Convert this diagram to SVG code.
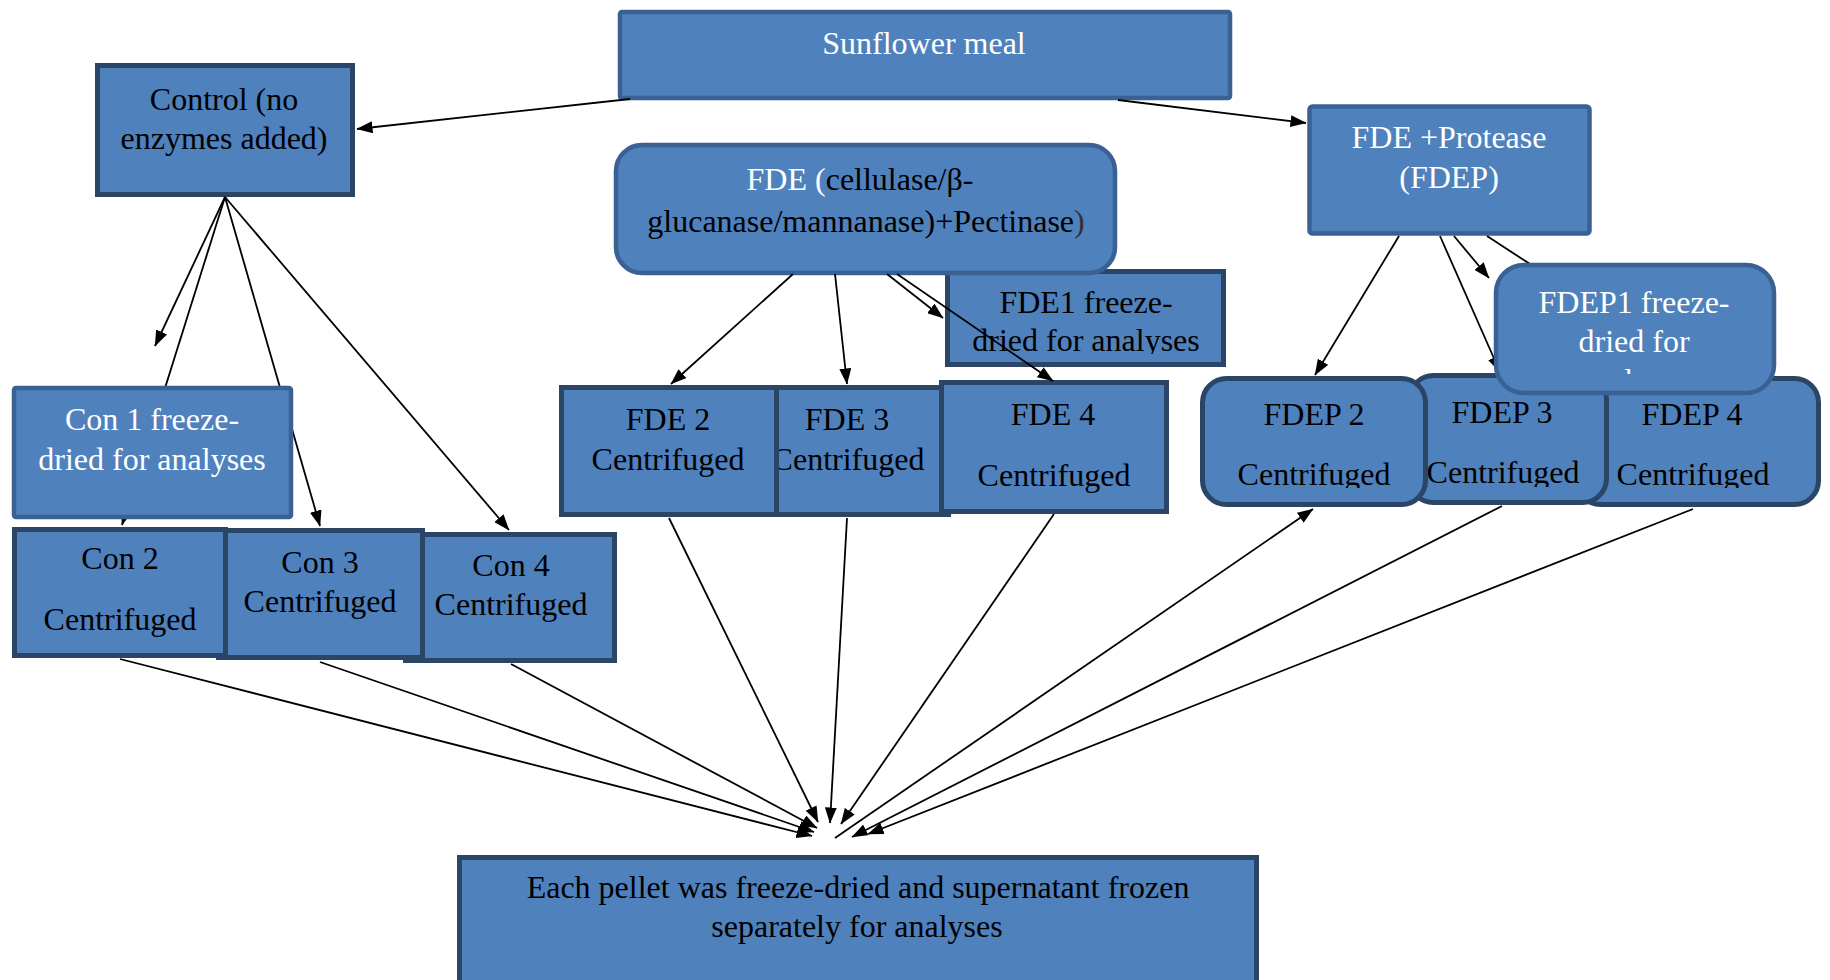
<svg xmlns="http://www.w3.org/2000/svg" width="1830" height="980" viewBox="0 0 1830 980">
<style>
.bd{fill:#4f81bd;stroke:#2b4566;stroke-width:5}
.bm{fill:#4f81bd;stroke:#3a6194;stroke-width:4.5}
.t{font-family:"Liberation Serif","Times New Roman",serif;font-size:32px;text-anchor:middle}
.w{fill:#ffffff}
.k{fill:#000000}
.c{fill:none;stroke:#000;stroke-width:1.8}
.a{marker-end:url(#ah)}
</style>
<defs>
<marker id="ah" markerUnits="userSpaceOnUse" markerWidth="16" markerHeight="12" refX="15.5" refY="6" orient="auto"><path d="M0,0 L16,6 L0,12 z" fill="#000"/></marker>
<clipPath id="cFDE1"><rect x="945" y="269" width="281" height="85"/></clipPath>
<clipPath id="cFDEP1"><rect x="1494" y="263" width="282" height="111"/></clipPath>
<clipPath id="cFDEP2"><rect x="1200" y="376" width="228" height="112"/></clipPath>
<clipPath id="cFDEP3"><rect x="1407" y="373" width="202" height="114"/></clipPath>
<clipPath id="cFDEP4"><rect x="1574" y="376" width="247" height="112"/></clipPath>
</defs>
<rect width="1830" height="980" fill="#fff"/>

<g id="sunflower">
<rect class="bm" x="620" y="12" width="610" height="86" rx="2"/>
<text class="t w" x="924" y="54">Sunflower meal</text>
</g>
<g id="control">
<rect class="bd" x="97.5" y="65.5" width="255" height="129"/>
<text class="t k" x="224" y="110">Control (no</text>
<text class="t k" x="224" y="149">enzymes added)</text>
</g>
<g id="fde1">
<rect class="bd" x="947.5" y="271.5" width="276" height="93"/>
<g clip-path="url(#cFDE1)">
<text class="t k" x="1086" y="313">FDE1 freeze-</text>
<text class="t k" x="1086" y="351">dried for analyses</text>
</g>
</g>
<g id="fde">
<rect class="bm" x="616" y="145" width="499" height="128" rx="26"/>
<text class="t" x="860" y="190"><tspan class="w">FDE (</tspan><tspan class="k">cellulase/β-</tspan></text>
<text class="t k" x="866" y="232">glucanase/mannanase)+Pectinase<tspan fill="#333">)</tspan></text>
</g>
<g id="fdep">
<rect class="bm" x="1309.5" y="106.5" width="280" height="127" rx="3"/>
<text class="t w" x="1449" y="148">FDE +Protease</text>
<text class="t w" x="1449" y="188">(FDEP)</text>
</g>
<g id="fde3">
<rect class="bd" x="743.5" y="387.5" width="205" height="127"/>
<text class="t k" x="847" y="430">FDE 3</text>
<text class="t k" x="848" y="470">Centrifuged</text>
</g>
<g id="fde2">
<rect class="bd" x="561.5" y="387.5" width="215" height="127"/>
<text class="t k" x="668" y="430">FDE 2</text>
<text class="t k" x="668" y="470">Centrifuged</text>
</g>
<g id="fde4">
<rect class="bd" x="941.5" y="382.5" width="225" height="129"/>
<text class="t k" x="1053" y="425">FDE 4</text>
<text class="t k" x="1054" y="486">Centrifuged</text>
</g>
<g id="fdep4">
<rect class="bd" x="1576.5" y="378.5" width="242" height="126" rx="24"/>
<g clip-path="url(#cFDEP4)">
<text class="t k" x="1692" y="425">FDEP 4</text>
<text class="t k" x="1693" y="485">Centrifuged</text>
</g>
</g>
<g id="fdep3">
<rect class="bd" x="1409.5" y="375.5" width="197" height="127" rx="24"/>
<g clip-path="url(#cFDEP3)">
<text class="t k" x="1502" y="423">FDEP 3</text>
<text class="t k" x="1503" y="483">Centrifuged</text>
</g>
</g>
<g id="fdep2">
<rect class="bd" x="1202.5" y="378.5" width="223" height="126" rx="24"/>
<g clip-path="url(#cFDEP2)">
<text class="t k" x="1314" y="425">FDEP 2</text>
<text class="t k" x="1314" y="485">Centrifuged</text>
</g>
</g>
<g id="con4">
<rect class="bd" x="405.5" y="534.5" width="209" height="126"/>
<text class="t k" x="511" y="576">Con 4</text>
<text class="t k" x="511" y="615">Centrifuged</text>
</g>
<g id="con3">
<rect class="bd" x="218.5" y="530.5" width="204" height="127"/>
<text class="t k" x="320" y="573">Con 3</text>
<text class="t k" x="320" y="612">Centrifuged</text>
</g>
<g id="con2">
<rect class="bd" x="14.5" y="529.5" width="211" height="126"/>
<text class="t k" x="120" y="569">Con 2</text>
<text class="t k" x="120" y="630">Centrifuged</text>
</g>
<g id="bottom">
<rect class="bd" x="459.5" y="857.5" width="797" height="140"/>
<text class="t k" x="858" y="898">Each pellet was freeze-dried and supernatant frozen</text>
<text class="t k" x="857" y="937">separately for analyses</text>
</g>

<g id="connectors">
<line class="c a" x1="630" y1="99" x2="357" y2="129"/>
<line class="c a" x1="1118" y1="100" x2="1306" y2="123"/>
<line class="c a" x1="225" y1="197" x2="155" y2="346"/>
<line class="c a" x1="225" y1="197" x2="122" y2="525"/>
<line class="c a" x1="225" y1="197" x2="320" y2="526"/>
<line class="c a" x1="225" y1="197" x2="509" y2="530"/>
<line class="c a" x1="793" y1="274" x2="671" y2="384"/>
<line class="c a" x1="835" y1="274" x2="847" y2="384"/>
<line class="c a" x1="887" y1="274" x2="943" y2="318"/>
<line class="c a" x1="897" y1="274" x2="1053" y2="381"/>
<line class="c a" x1="1399" y1="236" x2="1315" y2="375"/>
<line class="c a" x1="1440" y1="236" x2="1500" y2="372"/>
<line class="c a" x1="1454" y1="236" x2="1489" y2="278"/>
<line class="c a" x1="1487" y1="236" x2="1700" y2="375"/>
<line class="c a" x1="120" y1="659" x2="812" y2="836"/>
<line class="c a" x1="320" y1="662" x2="814" y2="832"/>
<line class="c a" x1="511" y1="664" x2="817" y2="828"/>
<line class="c a" x1="669" y1="518" x2="818" y2="822"/>
<line class="c a" x1="847" y1="518" x2="830" y2="823"/>
<line class="c a" x1="1054" y1="514" x2="841" y2="824"/>
<line class="c a" x1="835" y1="838" x2="1313" y2="509"/>
<line class="c a" x1="1502" y1="506" x2="852" y2="837"/>
<line class="c a" x1="1693" y1="509" x2="868" y2="834"/>
</g>

<g id="con1">
<rect class="bm" x="14" y="388" width="277" height="129" rx="2"/>
<text class="t w" x="152" y="430">Con 1 freeze-</text>
<text class="t w" x="152" y="470">dried for analyses</text>
</g>
<g id="fdep1">
<rect class="bm" x="1496" y="265" width="278" height="128" rx="28"/>
<g clip-path="url(#cFDEP1)">
<text class="t w" x="1634" y="313">FDEP1 freeze-</text>
<text class="t w" x="1634" y="352">dried for</text>
<text class="t w" x="1634" y="391">analyses</text>
</g>
</g>
</svg>
